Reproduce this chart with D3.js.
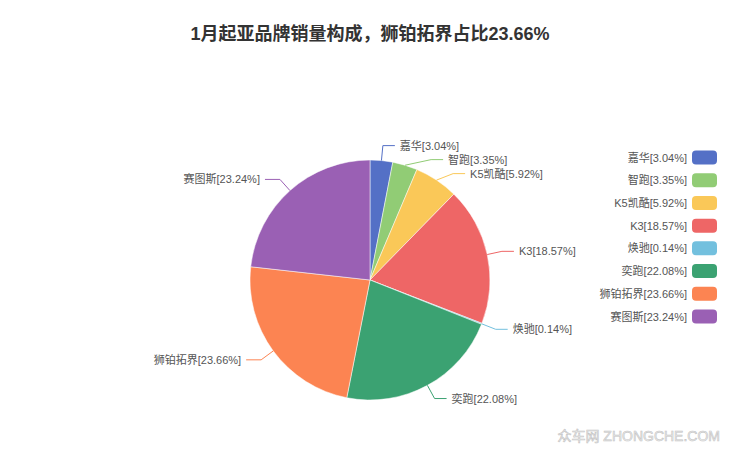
<!DOCTYPE html>
<html><head><meta charset="utf-8">
<script src="https://cdn.jsdelivr.net/npm/d3@7"></script>
<style>html,body{margin:0;padding:0;background:#fff;}svg{display:block;}</style>
</head><body>
<svg id="chart" width="740" height="455"></svg>
<script>
const titleText = "1月起亚品牌销量构成，狮铂拓界占比23.66%";
const categories = ["嘉华","智跑","K5凯酷","K3","焕驰","奕跑","狮铂拓界","赛图斯"];
const shares = [3.04, 3.35, 5.92, 18.57, 0.14, 22.08, 23.66, 23.24];
const colors = ["#5470c6","#91cc75","#fac858","#ee6666","#73c0de","#3ba272","#fc8452","#9a60b4"];
const watermarkText = "众车网 ZHONGCHE.COM";

const W = 740, H = 455;
const cx = 370, cy = 280, r = 120;
const len1 = 15, labelH = 14;
const len2 = {right: 12, left: 15}, textGap = 5;
const font = "'Liberation Sans', 'Noto Sans CJK SC', sans-serif";
const fmt = (c, v) => `${c}[${v.toFixed(2)}%]`;

const svg = d3.select("#chart");

// title
svg.append("text").attr("x", W/2).attr("y", 34)
  .attr("text-anchor","middle").attr("dominant-baseline","central")
  .attr("font-family", font).attr("font-size", 18).attr("font-weight","bold")
  .attr("fill","#333").text(titleText);

// pie
const pie = d3.pie().sort(null).value(d => d);
const arcs = pie(shares);
const arcGen = d3.arc().innerRadius(0).outerRadius(r);
const g = svg.append("g").attr("transform", `translate(${cx},${cy})`);
g.selectAll("path").data(arcs).join("path")
  .attr("d", arcGen)
  .attr("fill", (d,i) => colors[i])
  .attr("stroke", "#fff").attr("stroke-width", 0.5);

// label layout (echarts-like)
const labels = arcs.map((d,i) => {
  const mid = (d.startAngle + d.endAngle)/2;
  const s = Math.sin(mid), c = Math.cos(mid);
  const dir = s >= 0 ? 1 : -1;
  const R = r + len1;
  return {
    i, dir,
    ex: cx + r*s, ey: cy - r*c,
    x: cx + R*s, y: cy - R*c,
    ox: cx + R*s
  };
});
function layoutSide(list){
  if (list.length < 2) return;
  list.sort((a,b) => a.y - b.y);
  let lastPos = -Infinity, adjusted = false;
  list.forEach(it => {
    const top = it.y - labelH/2;
    if (top < lastPos) { it.y += lastPos - top; adjusted = true; }
    lastPos = it.y + labelH/2;
  });
  if (!adjusted) return;
  const semis = [{list:[],maxY:0,rB:r+len1},{list:[],maxY:0,rB:r+len1}];
  list.forEach(it => {
    const semi = it.y > cy ? semis[1] : semis[0];
    const dy = Math.abs(it.y - cy);
    if (dy >= semi.maxY) {
      const dx = it.ox - cx;
      const rA = r + len1;
      semi.rB = Math.abs(dx) < rA ? Math.sqrt(dy*dy/(1 - dx*dx/rA/rA)) : rA;
      semi.maxY = dy;
    }
    semi.list.push(it);
  });
  semis.forEach(semi => {
    semi.list.forEach(it => {
      const dy = Math.abs(it.y - cy);
      const rA = r + len1;
      const dx = Math.sqrt(Math.max(0, (1 - dy*dy/(semi.rB*semi.rB))) * rA*rA);
      it.x = cx + dx*it.dir;
    });
  });
}
layoutSide(labels.filter(l => l.dir > 0));
layoutSide(labels.filter(l => l.dir < 0));

const lg = svg.append("g");
labels.forEach(l => {
  const endX = l.x + l.dir*(l.dir > 0 ? len2.right : len2.left);
  lg.append("polyline")
    .attr("points", [[l.ex,l.ey],[l.x,l.y],[endX,l.y]].map(p => p.join(",")).join(" "))
    .attr("fill","none").attr("stroke", colors[l.i]).attr("stroke-width", 1);
  lg.append("text")
    .attr("x", endX + l.dir*textGap).attr("y", l.y)
    .attr("text-anchor", l.dir > 0 ? "start" : "end")
    .attr("dominant-baseline","central")
    .attr("font-family", font).attr("font-size", 11).attr("fill","#555")
    .text(fmt(categories[l.i], shares[l.i]));
});

// legend
const legY = d3.scalePoint().domain(categories).range([157.5, 316.5]);
const leg = svg.append("g");
categories.forEach((c,i) => {
  const y = legY(c);
  leg.append("rect").attr("x", 692).attr("y", y - 7).attr("width", 25).attr("height", 14)
    .attr("rx", 4).attr("fill", colors[i]);
  leg.append("text").attr("x", 687).attr("y", y)
    .attr("text-anchor","end").attr("dominant-baseline","central")
    .attr("font-family", font).attr("font-size", 11).attr("fill","#555")
    .text(fmt(c, shares[i]));
});

// watermark
svg.append("text").attr("x", 720).attr("y", 436)
  .attr("text-anchor","end").attr("dominant-baseline","central")
  .attr("font-family", font).attr("font-size", 14)
  .attr("fill","#f2f2f2").attr("stroke","#c4c4c4").attr("stroke-width",0.6)
  .text(watermarkText);
</script>
</body></html>
